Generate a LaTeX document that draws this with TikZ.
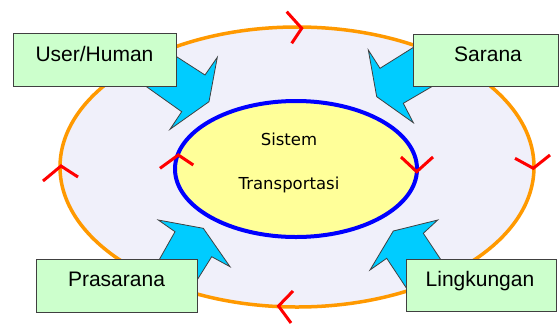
\documentclass[tikz,border=0pt]{standalone}
\usepackage{fontspec}
\setmainfont{Liberation Sans}
\newfontfamily\verd{DejaVu Sans}
\definecolor{outerfill}{RGB}{240,240,250}
\definecolor{orangeline}{RGB}{255,153,0}
\definecolor{innerfill}{RGB}{255,255,153}
\definecolor{blueline}{RGB}{0,0,255}
\definecolor{boxfill}{RGB}{204,255,204}
\definecolor{boxline}{RGB}{64,64,64}
\definecolor{arrowfill}{RGB}{0,204,255}
\definecolor{redmark}{RGB}{255,0,0}
\begin{document}
\begin{tikzpicture}[x=1pt,y=-1pt,
  labelbox/.style={draw=boxline, line width=1.3pt, fill=boxfill, anchor=north west, inner sep=0pt},
  labeltext/.style={anchor=base, font=\fontsize{21}{24}\selectfont, inner sep=0pt},
  innertext/.style={anchor=base, font=\verd\fontsize{16.5}{19}\selectfont, inner sep=0pt},
  blockarrow/.style={fill=arrowfill, draw=boxline, line width=0.8pt, line join=miter},
  tick/.style={draw=redmark, line width=3pt, line join=miter}]
\useasboundingbox (0,0) rectangle (559,327);
% ellipses
\draw[fill=outerfill, draw=orangeline, line width=3.5pt] (297,167) ellipse [x radius=237pt, y radius=140pt];
\node[coordinate] (outer) at (297,167) {};
\draw[fill=innerfill, draw=blueline, line width=4pt] (296,169) ellipse [x radius=121pt, y radius=68pt];
\node[coordinate] (inner) at (296,169) {};
% red direction marks
\draw[tick] (286.7,11.7) -- (301.7,28.3) -- (291.7,43.3);
\draw[tick] (515,158.3) -- (533.3,168.3) -- (550,155);
\draw[tick] (293,291) -- (278.5,306) -- (291,323);
\draw[tick] (43,181) -- (61,166) -- (78,177);
\draw[tick] (160,168.3) -- (178.3,155) -- (193.3,165);
\draw[tick] (401,157) -- (416.7,171.7) -- (433,157);
% inner text
\node[innertext] (sistem) at (289,145) {Sistem};
\node[innertext] (transportasi) at (289,189) {Transportasi};
% block arrows
\draw[blockarrow] (160,46) -- (205,75) -- (217.3,57.3) -- (209,101.7) -- (170,129.3) -- (181.7,111.7) -- (130,75) -- cycle;
\draw[blockarrow] (430,37) -- (380,68.3) -- (368.3,50) -- (376.7,96.7) -- (413.3,122.7) -- (403.3,103.3) -- (450,76) -- cycle;
\draw[blockarrow] (150.6,275) -- (175,231.7) -- (158.3,220) -- (203.3,228.3) -- (230,266.7) -- (211.7,256.7) -- (194,285) -- cycle;
\draw[blockarrow] (411,295) -- (386.7,258.3) -- (370,270) -- (393.3,231) -- (437.7,220) -- (423.3,233.3) -- (451,275) -- cycle;
% boxes
\node[labelbox, minimum width=163pt, minimum height=53pt] (user) at (13,33) {};
\node[labeltext] (usert) at (94.5,61) {User/Human};
\node[labelbox, minimum width=145pt, minimum height=52pt] (sarana) at (413,34) {};
\node[labeltext] (saranat) at (488,61) {Sarana};
\node[labelbox, minimum width=161pt, minimum height=53pt] (prasarana) at (36,259) {};
\node[labeltext] (prasaranat) at (116.5,286) {Prasarana};
\node[labelbox, minimum width=150pt, minimum height=52pt] (lingkungan) at (406,259) {};
\node[labeltext] (lingkungant) at (480,286) {Lingkungan};
\end{tikzpicture}
\end{document}
